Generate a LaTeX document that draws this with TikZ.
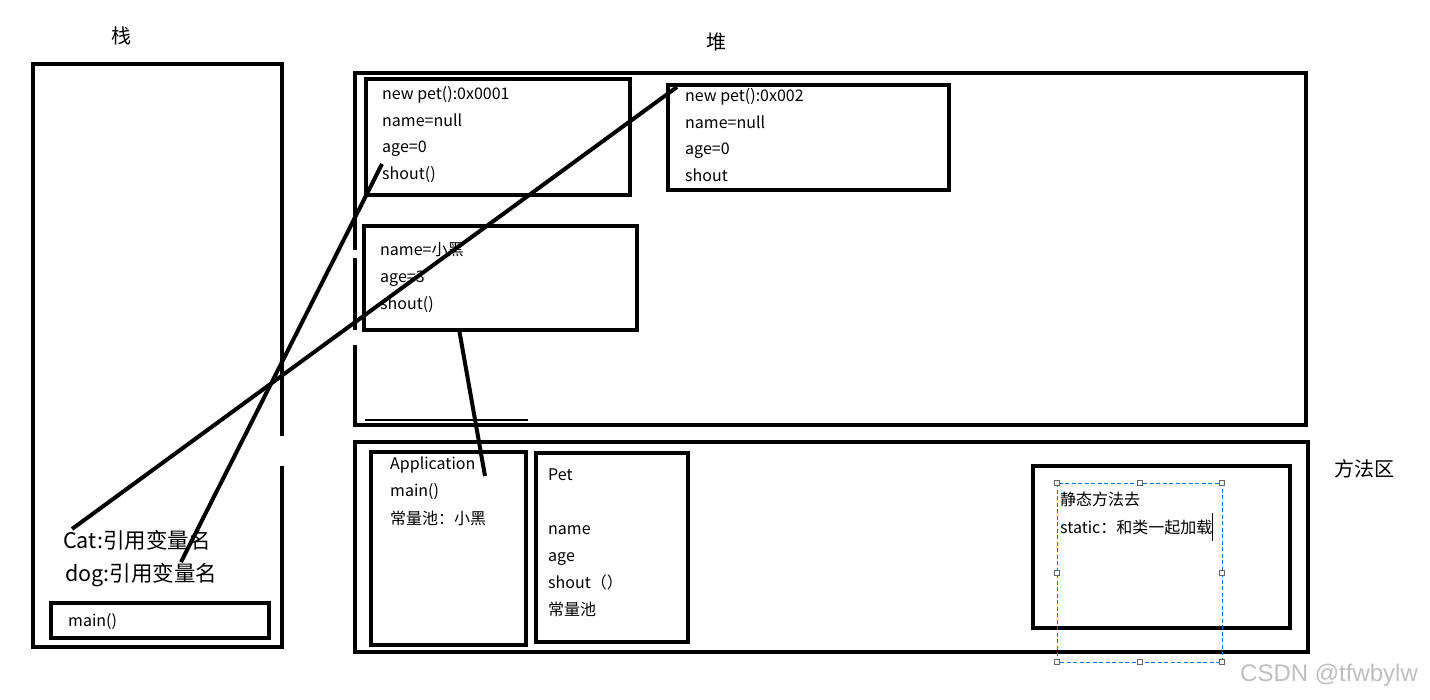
\documentclass[tikz,border=0pt]{standalone}
\usepackage{fontspec}
\setmainfont{Noto Sans CJK SC}
\newfontfamily\wmfont{Liberation Sans}
\begin{document}
\begin{tikzpicture}[x=1pt,y=-1pt,
  box/.style={draw=black,line width=4.5pt,fill=none,outer sep=0pt,inner sep=0pt,anchor=north west},
  wire/.style={draw=black,line width=4pt},
  txt/.style={anchor=west,inner sep=0pt,text height=11pt,text depth=3pt,font=\fontsize{16}{18}\selectfont},
  big/.style={anchor=west,inner sep=0pt,text height=15pt,text depth=4pt,font=\fontsize{21.5}{24}\selectfont},
  title/.style={inner sep=0pt,font=\fontsize{20}{22}\selectfont},
  handle/.style={draw=gray!80!black,fill=white,line width=0.8pt,minimum size=5pt,inner sep=0pt,rectangle},
  sel/.style={draw={rgb,255:red,0;green,120;blue,215},line width=1pt,dash pattern=on 4pt off 2.5pt}]
\useasboundingbox (0,0) rectangle (1430,700);
\fill[white] (0,0) rectangle (1430,700);

% titles
\node[title] (tstack) at (121,36) {栈};
\node[title] (theap) at (716,42) {堆};
\node[title] (tmeth) at (1364,469) {方法区};

% stack
\draw[box] (282,436) -- (282,64) -- (33,64) -- (33,647) -- (282,647) -- (282,466);
\node[box,minimum width=218pt,minimum height=35pt] (mainbox) at (51,603) {};
\node[txt] (maint) at (68,622) {main()};
\node[big] (cat) at (63,543) {Cat:引用变量名};
\node[big] (dog) at (65,576) {dog:引用变量名};

% heap
\draw[box] (355,250) -- (355,73) -- (1306,73) -- (1306,425) -- (355,425) -- (355,345);
\draw[box] (355,258) -- (355,330);
\draw[black,line width=2.5pt] (365,420) -- (528,420);

\node[box,minimum width=264pt,minimum height=116pt] (obj1) at (366,79) {};
\node[txt] (o1a) at (382,96) {new pet():0x0001};
\node[txt] (o1b) at (382,123) {name=null};
\node[txt] (o1c) at (382,149) {age=0};
\node[txt] (o1d) at (382,176) {shout()};

\node[box,minimum width=281pt,minimum height=105pt] (obj2) at (668,85) {};
\node[txt] (o2a) at (685,98) {new pet():0x002};
\node[txt] (o2b) at (685,125) {name=null};
\node[txt] (o2c) at (685,151) {age=0};
\node[txt] (o2d) at (685,178) {shout};

\node[box,minimum width=273pt,minimum height=104pt] (obj3) at (364,226) {};
\node[txt] (o3a) at (380,252) {name=小黑};
\node[txt] (o3b) at (380,279) {age=3};
\node[txt] (o3c) at (380,306) {shout()};

% method area
\node[box,minimum width=953pt,minimum height=210pt] (meth) at (355,442) {};
\node[box,minimum width=155pt,minimum height=193pt] (app) at (371,452) {};
\node[txt] (apa) at (390,465) {Application};
\node[txt] (apb) at (390,492) {main()};
\node[txt] (apc) at (390,520) {常量池：小黑};

\node[box,minimum width=152pt,minimum height=189pt] (pet) at (536,453) {};
\node[txt] (pa) at (548,476) {Pet};
\node[txt] (pb) at (548,530) {name};
\node[txt] (pc) at (548,557) {age};
\node[txt] (pd) at (548,584) {shout（）};
\node[txt] (pe) at (548,611) {常量池};

\node[box,minimum width=257pt,minimum height=162pt] (stat) at (1033,466) {};
\node[txt] (sa) at (1060,501) {静态方法去};
\node[txt] (sb) at (1060,529) {static：和类一起加载};
\draw[black,line width=1pt] (1212,513) -- (1212,541);

% selection frame
\draw[sel] (1057,483) rectangle (1222,662);
\foreach \p/\n in {{(1057,483)}/h1,{(1140,483)}/h2,{(1222,483)}/h3,{(1057,573)}/h4,{(1222,573)}/h5,{(1057,662)}/h6,{(1140,662)}/h7,{(1222,662)}/h8}
  \node[handle] (\n) at \p {};

% connector end points
\coordinate (catEnd) at (72,529);
\coordinate (dogEnd) at (181,562);
\coordinate (o2End) at (677,87);
\coordinate (o1End) at (382,164);
\coordinate (o3End) at (459,329);
\coordinate (appEnd) at (485,476);
\draw[wire] (catEnd) -- (o2End);
\draw[wire] (dogEnd) -- (o1End);
\draw[wire] (o3End) -- (appEnd);

% watermark
\node[anchor=west,inner sep=0pt,text=gray!50,font=\wmfont\fontsize{24}{26}\selectfont] (wm) at (1240,675) {CSDN @tfwbylw};
\end{tikzpicture}
\end{document}
